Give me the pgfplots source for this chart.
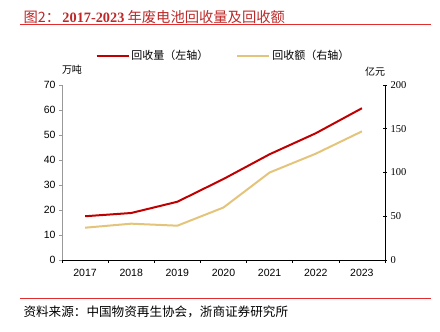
\documentclass[border=0pt]{standalone}
\usepackage{pgfplots}
\pgfplotsset{compat=1.18}
\usepackage{fontspec}
\setmainfont{Liberation Serif}
\setsansfont{Liberation Sans}
\newfontfamily\cjk{Noto Sans CJK SC}
\definecolor{cred}{RGB}{192,0,0}
\definecolor{cyel}{RGB}{228,196,122}
\definecolor{ttl}{RGB}{190,40,40}
\definecolor{rule}{RGB}{225,45,45}
\begin{document}
\begin{tikzpicture}
\path[use as bounding box] (0,0) rectangle (440pt,332pt);
\node[anchor=west,text=ttl,font=\fontsize{14.3}{16}\selectfont] at (20pt,315pt) {\cjk 图2：\,\textbf{\rmfamily 2017-2023} 年废电池回收量及回收额};
\draw[rule,line width=0.8pt] (20pt,308pt) -- (431pt,308pt);
\draw[rule,line width=0.8pt] (20pt,34pt) -- (431pt,34pt);
\node[anchor=west,font=\fontsize{12.6}{14}\selectfont] at (20pt,20pt) {\cjk 资料来源：中国物资再生协会，浙商证券研究所};
\begin{axis}[
  at={(62pt,72pt)}, anchor=south west,
  scale only axis, width=323pt, height=175pt,
  xmin=2016.5, xmax=2023.5, ymin=0, ymax=70,
  axis y line*=left, axis x line*=bottom,
  y axis line style={draw=gray!80,line width=1pt},
  x axis line style={draw=black,line width=0.6pt},
  xtick={2017,...,2023},
  minor xtick={2016.5,2017.5,...,2023.5},
  major x tick style={draw=none},
  minor x tick style={draw=black,line width=0.5pt},
  ytick={0,10,...,70},
  y tick style={draw=gray!80,line width=0.6pt},
  tick align=outside, major tick length=3pt, minor tick length=3pt,
  /pgf/number format/assume math mode=true,
  /pgf/number format/1000 sep={},
  ticklabel style={font=\sffamily\fontsize{10.5}{12}\selectfont},
  xticklabel style={yshift=-3pt},
  legend columns=2,
  legend style={draw=none, fill=none, at={(0.5,1.166)}, anchor=center,
    font=\fontsize{11}{13}\selectfont, /tikz/every even column/.append style={column sep=26pt}},
  legend image code/.code={\draw[#1] (0pt,0pt) -- (32pt,0pt);},
]
\addplot[cred, line width=2pt] coordinates {(2017,17.5) (2018,18.8) (2019,23.3) (2020,32.4) (2021,42.3) (2022,50.7) (2023,60.7)};
\addlegendentry{\cjk 回收量（左轴）}
\addlegendimage{cyel, line width=2pt}
\addlegendentry{\cjk 回收额（右轴）}
\end{axis}
\begin{axis}[
  at={(62pt,72pt)}, anchor=south west,
  scale only axis, width=323pt, height=175pt,
  xmin=2016.5, xmax=2023.5, ymin=0, ymax=200,
  axis y line*=right, axis x line=none,
  y axis line style={draw=black,line width=0.8pt},
  ytick={0,50,...,200},
  y tick style={draw=black,line width=0.6pt},
  tick align=center, major tick length=4pt,
  /pgf/number format/assume math mode=true,
  ticklabel style={font=\rmfamily\fontsize{10.5}{12}\selectfont},
]
\addplot[cyel, line width=2pt] coordinates {(2017,36.9) (2018,41.5) (2019,39.2) (2020,60) (2021,100) (2022,121.5) (2023,147)};
\end{axis}
\node[font=\fontsize{10}{12}\selectfont] at (72pt,262pt) {\cjk 万吨};
\node[font=\fontsize{10}{12}\selectfont] at (375pt,260pt) {\cjk 亿元};
\end{tikzpicture}
\end{document}
